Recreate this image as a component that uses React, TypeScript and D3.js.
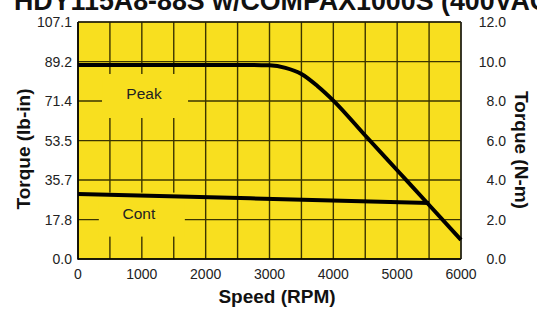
import React from "react";
import * as d3 from "d3";

const title = "HDY115A8-88S w/COMPAX1000S (400VAC)";
const xTicks = [0, 1000, 2000, 3000, 4000, 5000, 6000];
const xGrid = [0, 500, 1000, 1500, 2000, 2500, 3000, 3500, 4000, 4500, 5000, 5500, 6000];
const yTicksLbIn = [0.0, 17.8, 35.7, 53.5, 71.4, 89.2, 107.1];
const yTicksNm = [0, 2, 4, 6, 8, 10, 12];
const peakSpeed = [0, 2500, 3000, 3250, 3500, 3750, 4000, 4500, 5000, 5500, 6000];
const peakTorque = [87.7, 87.7, 87.5, 86.4, 83.6, 78.2, 71.6, 55.8, 40.1, 24.4, 8.6];
const contSpeed = [0, 2700, 5500];
const contTorque = [29.4, 27.4, 25.3];
const labels = [
  { text: "Peak", speed: 1050, torque: 71.4 },
  { text: "Cont", speed: 1000, torque: 17.8 },
];

const W = 537;
const H = 314;
const L = 78, R = 461, T = 22, B = 259;
const FONT = "'Liberation Sans', Arial, Helvetica, sans-serif";

export default function App() {
  const x = d3.scaleLinear().domain([0, 6000]).range([L, R]);
  const y = d3.scaleLinear().domain([0, 107.1]).range([B, T]);
  const y2 = d3.scaleLinear().domain([0, 12]).range([B, T]);
  const line = d3
    .line<[number, number]>()
    .x((d) => x(d[0]))
    .y((d) => y(d[1]))
    .curve(d3.curveMonotoneX);
  const peak = line(peakSpeed.map((s, i) => [s, peakTorque[i]] as [number, number]));
  const cont = d3
    .line<[number, number]>()
    .x((d) => x(d[0]))
    .y((d) => y(d[1]))(contSpeed.map((s, i) => [s, contTorque[i]] as [number, number]));
  const grid = "#3b3400";
  const yellow = "#F8DF1F";
  return (
    <svg width={W} height={H} style={{ position: "absolute", left: 0, top: 0, background: "#fff" }} fontFamily={FONT}>
      <text x={14} y={10} textAnchor="start" fontSize={26.8} fontWeight="bold" fill="#111">
        {title}
      </text>
      <rect x={L} y={T} width={R - L} height={B - T} fill={yellow} />
      {xGrid.map((v) => (
        <line key={"gx" + v} x1={x(v)} x2={x(v)} y1={T} y2={B} stroke={grid} strokeWidth={1.4} />
      ))}
      {yTicksLbIn.map((v) => (
        <line key={"gy" + v} x1={L} x2={R} y1={y(v)} y2={y(v)} stroke={grid} strokeWidth={1.4} />
      ))}
      {labels.map((l) => (
        <g key={l.text}>
          <rect x={x(l.speed) - 43} y={y(l.torque) - 27} width={86} height={44} fill={yellow} />
        </g>
      ))}
      <line x1={L} x2={L} y1={T} y2={B + 0.7} stroke="#000" strokeWidth={1.6} />
      <line x1={L} x2={R} y1={B} y2={B} stroke="#000" strokeWidth={1.6} />
      <line x1={L} x2={R} y1={T} y2={T} stroke="#111" strokeWidth={1.2} />
      <line x1={R} x2={R} y1={T} y2={B} stroke="#222" strokeWidth={1.4} />
      <path d={cont || ""} fill="none" stroke="#000" strokeWidth={4} />
      <path d={peak || ""} fill="none" stroke="#000" strokeWidth={4} />
      {labels.map((l, i) => (
        <text
          key={"t" + l.text}
          x={x(l.speed) - 1 + i * -2}
          y={y(l.torque) - 2 + i * 1}
          textAnchor="middle"
          fontSize={15.5}
          fill="#222"
        >
          {l.text}
        </text>
      ))}
      {yTicksLbIn.map((v) => (
        <text key={"yl" + v} x={72} y={y(v) + 5} textAnchor="end" fontSize={14} fill="#222">
          {v.toFixed(1)}
        </text>
      ))}
      {yTicksNm.map((v) => (
        <text key={"yr" + v} x={506} y={y2(v) + 5} textAnchor="end" fontSize={14} fill="#222">
          {v.toFixed(1)}
        </text>
      ))}
      {xTicks.map((v) => (
        <text key={"xl" + v} x={x(v)} y={279} textAnchor="middle" fontSize={14} fill="#222">
          {v}
        </text>
      ))}
      <text x={277} y={303} textAnchor="middle" fontSize={19} fontWeight="bold" fill="#111">
        Speed (RPM)
      </text>
      <text
        transform={`translate(30,149) rotate(-90)`}
        textAnchor="middle"
        fontSize={19}
        fontWeight="bold"
        fill="#111"
      >
        Torque (lb-in)
      </text>
      <text
        transform={`translate(515,150) rotate(90)`}
        textAnchor="middle"
        fontSize={19}
        fontWeight="bold"
        fill="#111"
      >
        Torque (N-m)
      </text>
    </svg>
  );
}
